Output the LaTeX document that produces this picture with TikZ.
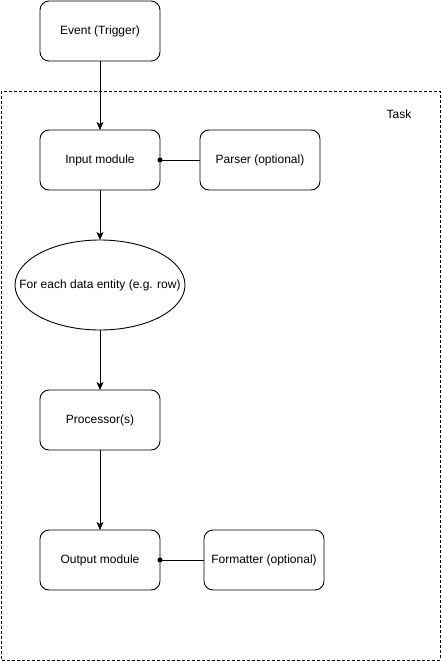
\documentclass[tikz,border=0pt]{standalone}
\usepackage{fontspec}
\setmainfont{Liberation Sans}
\usetikzlibrary{shapes.geometric, arrows.meta, positioning}

\begin{document}
\begin{tikzpicture}[
    x=1pt, y=1pt,
    node distance=69pt and 40pt,
    box/.style={rectangle, rounded corners=9pt, draw=black, fill=white, line width=0.9pt,
                minimum width=120pt, minimum height=60pt, align=center, outer sep=0pt,
                font=\fontsize{12}{14}\selectfont},
    loopnode/.style={ellipse, draw=black, fill=white, line width=0.9pt,
                minimum width=170pt, minimum height=90pt, inner xsep=-21pt, inner ysep=0pt,
                outer sep=0pt, font=\fontsize{12}{14}\selectfont},
    arrow/.style={-{Stealth[length=8pt, width=7pt, inset=2pt]}, line width=0.9pt},
    attach/.style={-{Circle[length=5pt]}, shorten >=-2.5pt, line width=0.9pt},
    group/.style={draw=black, line width=0.8pt, dash pattern=on 3pt off 2pt},
    label/.style={font=\fontsize{12}{14}\selectfont}
]
\useasboundingbox (0,0) rectangle (441,-661);

% --- Task container ---
\coordinate (taskNW) at (1,-91);
\coordinate (taskSE) at (440,-660);
\draw[group] (taskNW) rectangle (taskSE);
\node[label] (tasklabel) at (399,-114) {Task};

% --- Trigger ---
\node[box] (event) at (100,-31) {Event (Trigger)};

% --- Input ---
\node[box, below=of event] (input) {Input module};
\node[box, right=of input] (parser) {Parser (optional)};
\draw[arrow] (event) -- (input);
\draw[attach] (parser) -- (input);

% --- Loop over entities ---
\node[loopnode, below=50pt of input] (entity) {For each data entity (e.g. row)};
\draw[arrow] (input) -- (entity);

% --- Processing ---
\node[box, below=60pt of entity] (proc) {Processor(s)};
\draw[arrow] (entity) -- (proc);

% --- Output ---
\node[box, below=80pt of proc] (output) {Output module};
\node[box, right=44pt of output] (formatter) {Formatter (optional)};
\draw[arrow] (proc) -- (output);
\draw[attach] (formatter) -- (output);

\end{tikzpicture}
\end{document}
